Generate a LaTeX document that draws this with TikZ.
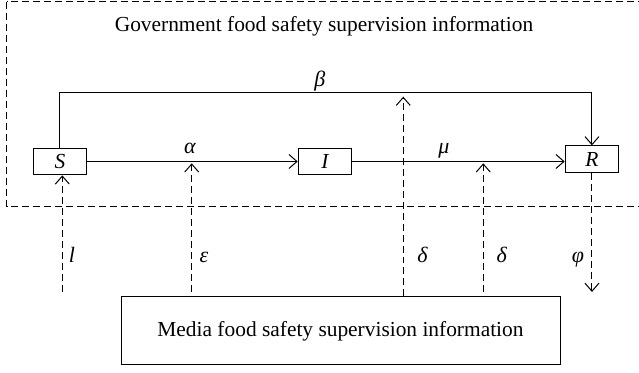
\documentclass[tikz,border=0pt]{standalone}
\usepackage{fontspec}
\setmainfont{Liberation Serif}
\usetikzlibrary{arrows.meta}

\begin{document}
\begin{tikzpicture}[
        >={Straight Barb[length=4pt,width=7pt]},
        line width=0.5pt,
        estado/.style={rectangle, draw, minimum width=0.94cm, minimum height=0.47cm, inner sep=0pt, font=\fontsize{10.7}{13}\selectfont\itshape},
        tracejado/.style={dash pattern=on 3.5pt off 2pt},
        rotulo/.style={anchor=base, font=\fontsize{11}{13}\selectfont\itshape},
        every node/.style={font=\fontsize{10.7}{13}\selectfont}
    ]

    \useasboundingbox (0,0) rectangle (11.23,-6.555);

    % ==================================================
    % INFORMACAO DO GOVERNO
    % ==================================================

    \draw[tracejado] (0.12,-0.03) rectangle (11.6,-3.63);
    \node[anchor=base] (governo) at (5.694,-0.562) {Government food safety supervision information};

    % Estados
    \node[estado] (S) at (1.054,-2.838) {S};
    \node[estado] (I) at (5.711,-2.838) {I};
    \node[estado] (R) at (10.403,-2.798) {R};

    % Transicoes
    \coordinate (topo) at (5.7,-1.634);
    \draw[->] (S) -- (I);
    \draw[->] (I.east) -- (I.east -| R.west);
    \draw[->] (S.north) -- (S.north |- topo) -| (R.north);

    \node[rotulo] (beta)  at (5.623,-1.52)  {β};
    \node[rotulo] (alfa)  at (3.339,-2.706) {α};
    \node[rotulo] (mi)    at (7.802,-2.706) {μ};

    % ==================================================
    % INFORMACAO DA MIDIA
    % ==================================================

    \node[draw, minimum width=7.715cm, minimum height=1.195cm] (midia) at (5.984,-5.817)
        {Media food safety supervision information};

    % Pontas das setas tracejadas
    \coordinate (l0) at (1.095,-5.131);
    \coordinate (e0) at (3.369,-5.131);
    \coordinate (e1) at (3.369,-2.87);
    \coordinate (d1) at (7.087,-1.699);
    \coordinate (d2) at (8.493,-2.87);
    \coordinate (f1) at (10.403,-5.131);

    % Setas tracejadas
    \draw[tracejado, ->] (l0) -- (S.south -| l0);
    \draw[tracejado, ->] (e0) -- (e1);
    \draw[tracejado, ->] (midia.north -| d1) -- (d1);
    \draw[tracejado, ->] (d2 |- e0) -- (d2);
    \draw[tracejado, ->] (R.south) -- (f1);

    \node[rotulo] (l)   at (1.265,-4.622)  {l};
    \node[rotulo] (eps) at (3.585,-4.622)  {ε};
    \node[rotulo] (dA)  at (7.425,-4.622)  {δ};
    \node[rotulo] (dB)  at (8.816,-4.622)  {δ};
    \node[rotulo] (fi)  at (10.157,-4.622) {φ};

\end{tikzpicture}
\end{document}
